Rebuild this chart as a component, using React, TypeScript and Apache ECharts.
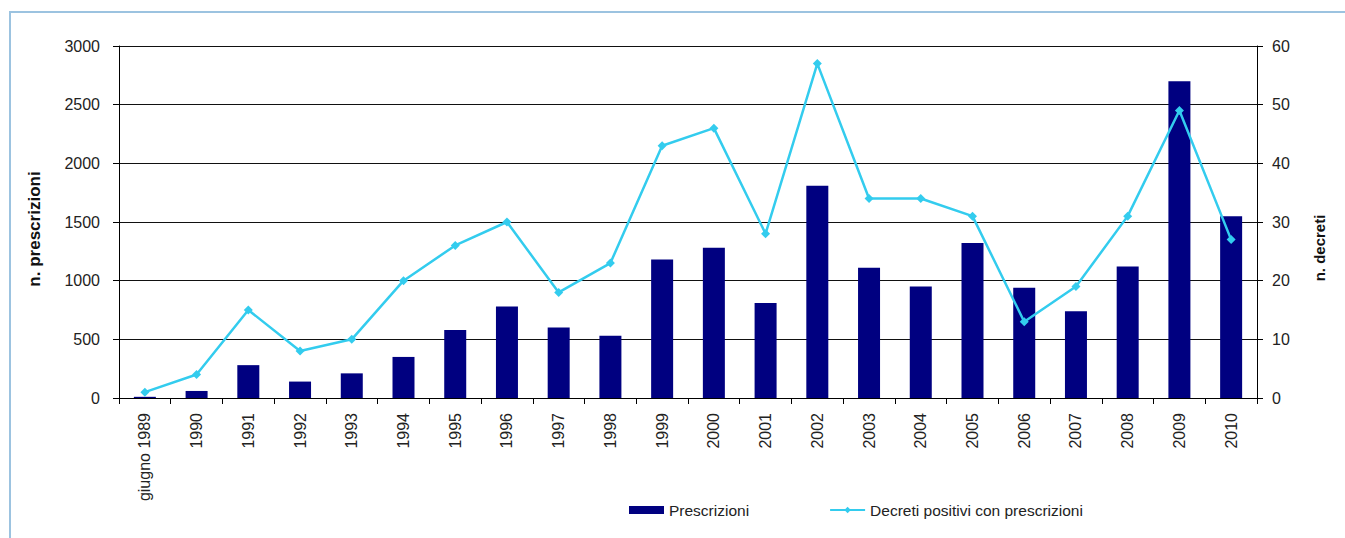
import React, { useEffect, useRef } from "react";
import * as echarts from "echarts";

const categories = ["giugno 1989", "1990", "1991", "1992", "1993", "1994", "1995", "1996", "1997", "1998", "1999", "2000", "2001", "2002", "2003", "2004", "2005", "2006", "2007", "2008", "2009", "2010"];
const prescrizioni = [10, 60, 280, 140, 210, 350, 580, 780, 600, 530, 1180, 1280, 810, 1810, 1110, 950, 1320, 940, 740, 1120, 2700, 1550];
const decreti = [1, 4, 15, 8, 10, 20, 26, 30, 18, 23, 43, 46, 28, 57, 34, 34, 31, 13, 19, 31, 49, 27];

const FONT = "Liberation Sans, Arial, sans-serif";

export default function App() {
  const ref = useRef<HTMLDivElement>(null);
  useEffect(() => {
    if (!ref.current) return;
    const chart = echarts.init(ref.current, undefined, { renderer: "svg" });
    chart.setOption({
      animation: false,
      backgroundColor: "#ffffff",
      textStyle: { fontFamily: FONT },
      graphic: [
        {
          type: "rect",
          shape: { x: 10, y: 12, width: 1400, height: 600 },
          style: { fill: "none", stroke: "#9cc3e0", lineWidth: 2 },
          silent: true,
        },
      ],
      grid: { left: 119, right: 88, top: 46, bottom: 140, containLabel: false },
      legend: {
        left: 624,
        top: 497,
        itemWidth: 35,
        itemHeight: 8,
        itemGap: 80,
        textStyle: { fontFamily: FONT, fontSize: 15.5, color: "#222" },
        data: [
          { name: "Prescrizioni", icon: "rect" },
          { name: "Decreti positivi con prescrizioni" },
        ],
      },
      xAxis: {
        type: "category",
        data: categories,
        boundaryGap: true,
        axisLine: { lineStyle: { color: "#000", width: 1 } },
        axisTick: { show: true, length: 6, lineStyle: { color: "#000" }, inside: false },
        axisLabel: { rotate: 90, margin: 15, fontSize: 16, color: "#222", fontFamily: FONT, interval: 0 },
      },
      yAxis: [
        {
          type: "value",
          min: 0,
          max: 3000,
          interval: 500,
          name: "n. prescrizioni",
          nameLocation: "middle",
          nameGap: 76,
          nameTextStyle: { fontWeight: "bold", fontSize: 17, color: "#111", fontFamily: FONT, padding: [0, 14, 0, 0] },
          axisLine: { show: true, lineStyle: { color: "#000" } },
          axisTick: { show: true, length: 6, lineStyle: { color: "#000" } },
          axisLabel: { fontSize: 16, color: "#222", margin: 19, fontFamily: FONT, formatter: (v: number) => String(v) },
          splitLine: { show: true, lineStyle: { color: "#111", width: 1 } },
        },
        {
          type: "value",
          min: 0,
          max: 60,
          interval: 10,
          name: "n. decreti",
          nameLocation: "middle",
          nameGap: 55,
          nameTextStyle: { fontWeight: "bold", fontSize: 15, color: "#111", fontFamily: FONT, padding: [0, 52, 0, 0] },
          axisLine: { show: true, lineStyle: { color: "#000" } },
          axisTick: { show: true, length: 6, lineStyle: { color: "#000" } },
          axisLabel: { fontSize: 16, color: "#222", margin: 15, fontFamily: FONT },
          splitLine: { show: false },
        },
      ],
      series: [
        {
          name: "Prescrizioni",
          type: "bar",
          data: prescrizioni,
          yAxisIndex: 0,
          barWidth: 22,
          itemStyle: { color: "#000080" },
        },
        {
          name: "Decreti positivi con prescrizioni",
          type: "line",
          data: decreti,
          yAxisIndex: 1,
          symbol: "diamond",
          symbolSize: 9,
          lineStyle: { color: "#33ccee", width: 2.5 },
          itemStyle: { color: "#33ccee" },
        },
      ],
    });
    return () => chart.dispose();
  }, []);
  return <div ref={ref} style={{ position: "fixed", left: 0, top: 0, width: 1345, height: 538 }} />;
}
